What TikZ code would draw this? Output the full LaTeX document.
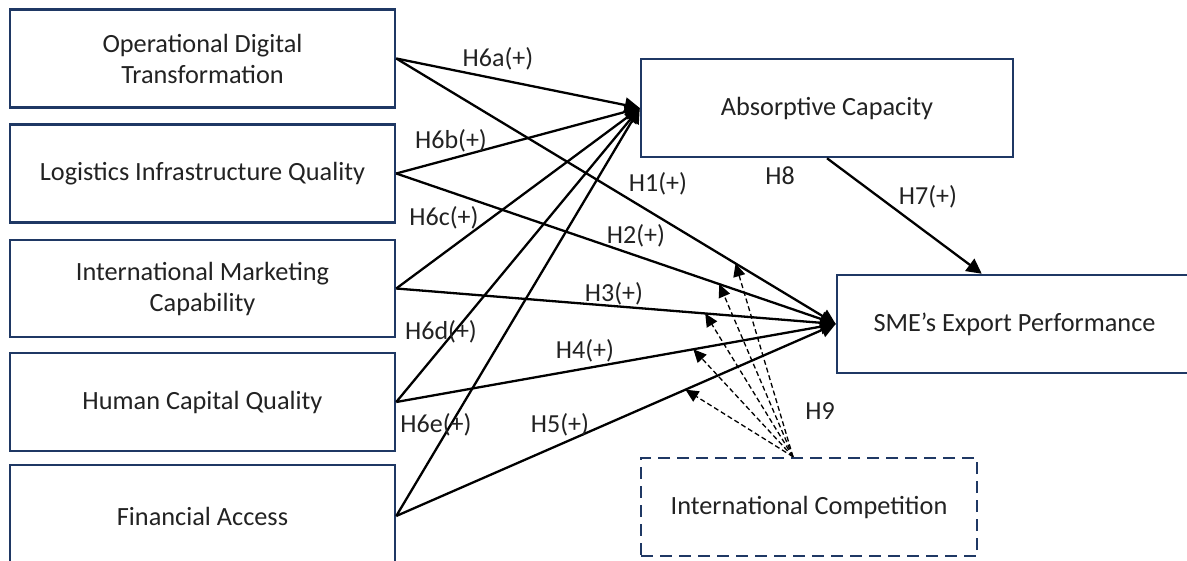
\documentclass[tikz,border=0pt]{standalone}
\usepackage{fontspec}
\setmainfont{Carlito}
\usetikzlibrary{arrows.meta,calc}
\definecolor{navy}{HTML}{1F3864}
\definecolor{txt}{HTML}{222222}
\begin{document}
\begin{tikzpicture}[x=1pt,y=-1pt,
  box/.style={draw=navy, line width=2.5pt, inner sep=0pt, align=center, text=txt,
              font=\fontsize{26.3}{31}\selectfont, minimum width=385pt, minimum height=98pt},
  dbox/.style={box, dash pattern=on 12pt off 7pt},
  lbl/.style={inner sep=0pt, text=txt, font=\fontsize{26}{30}\selectfont},
  conn/.style={draw=black, line width=2.3pt, -{Triangle[length=15pt,width=15pt]}},
  mod/.style={draw=black, line width=1.3pt, dash pattern=on 5pt off 3pt, -{Triangle[length=13pt,width=12pt]}}
]
\useasboundingbox (0,0) rectangle (1187,561);
\clip (0,0) rectangle (1187,561);

% left column
\node[box] (b1) at (202.5,58.5) {Operational Digital\\Transformation};
\node[box] (b2) at (202.5,173.5) {Logistics Infrastructure Quality};
\node[box, minimum height=97pt] (b3) at (202.5,288.5) {International Marketing\\Capability};
\node[box] (b4) at (202.5,402) {Human Capital Quality};
\node[box, minimum height=102pt] (b5) at (202.5,516) {Financial Access};

% right
\node[box, minimum width=372pt] (ac) at (827,108) {Absorptive Capacity};
\node[box, minimum width=355pt] (sme) at (1014.5,324) {SME’s Export Performance};
\node[dbox, minimum width=336pt] (ic) at (809,507) {International Competition};

% paths to Absorptive Capacity
\draw[conn] (b1.east) -- (ac.west);
\draw[conn] (b2.east) -- (ac.west);
\draw[conn] (b3.east) -- (ac.west);
\draw[conn] (b4.east) -- (ac.west);
\draw[conn] (b5.east) -- (ac.west);

% paths to SME export performance
\draw[conn] (b1.east) -- coordinate[pos=0.772] (m1) (sme.west);
\draw[conn] (b2.east) -- coordinate[pos=0.735] (m2) (sme.west);
\draw[conn] (b3.east) -- coordinate[pos=0.703] (m3) (sme.west);
\draw[conn] (b4.east) -- coordinate[pos=0.676] (m4) (sme.west);
\draw[conn] (b5.east) -- coordinate[pos=0.658] (m5) (sme.west);

% H7
\coordinate (h7end) at ($(sme.north west)+(146,0)$);
\draw[conn] (ac.south) -- (h7end);

% moderation (dashed)
\coordinate (icsrc) at ($(ic.north)+(-16,0)$);
\draw[mod] (icsrc) -- (m1);
\draw[mod] (icsrc) -- (m2);
\draw[mod] (icsrc) -- (m3);
\draw[mod] (icsrc) -- (m4);
\draw[mod] (icsrc) -- (m5);

% labels
\node[lbl] (l6a) at (498,59) {H6a(+)};
\node[lbl] (l6b) at (451,141) {H6b(+)};
\node[lbl] (l6c) at (444,218) {H6c(+)};
\node[lbl] (l6d) at (441,332) {H6d(+)};
\node[lbl] (l6e) at (436,425) {H6e(+)};
\node[lbl] (l1) at (658,184) {H1(+)};
\node[lbl] (l8) at (780,176) {H8};
\node[lbl] (l7) at (928,197) {H7(+)};
\node[lbl] (l2) at (636,236) {H2(+)};
\node[lbl] (l3) at (614,294) {H3(+)};
\node[lbl] (l4) at (585,351) {H4(+)};
\node[lbl] (l5) at (560,425) {H5(+)};
\node[lbl] (l9) at (820,411) {H9};
\end{tikzpicture}
\end{document}
